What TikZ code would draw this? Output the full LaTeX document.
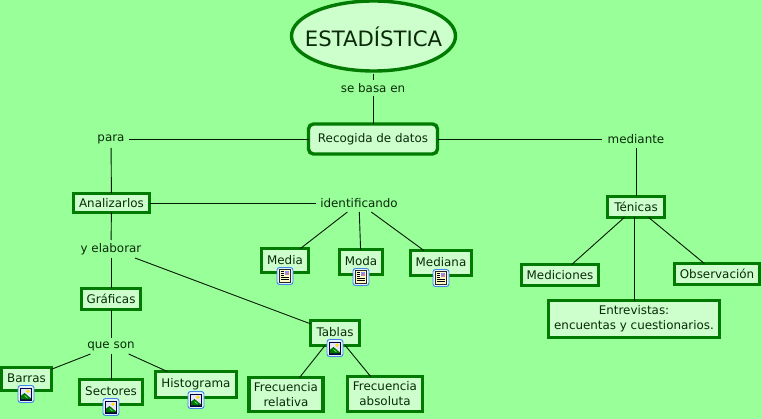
\documentclass[tikz,border=0pt]{standalone}
\usepackage{fontspec}
\setmainfont{DejaVu Sans}
\usetikzlibrary{shapes.geometric}
\definecolor{bgc}{HTML}{99FF99}
\definecolor{boxc}{HTML}{CCFFCC}
\definecolor{edgec}{HTML}{007A00}
\definecolor{txtc}{HTML}{0A2A0A}
\definecolor{tileb}{HTML}{3F86E8}
\definecolor{tilef}{HTML}{E4F1FF}
\tikzset{
  x=1pt,y=-1pt,
  every node/.append style={font=\fontsize{11.9}{15}\selectfont,text=txtc,align=center,inner sep=0pt,outer sep=0pt},
  concept/.style={draw=edgec,fill=boxc,line width=3.4pt,rectangle},
  rndbox/.style={concept,rounded corners=5pt},
  linklabel/.style={rectangle},
  conn/.style={draw=black!90!green,line width=0.9pt},
  imgicon/.pic={
    \fill[tilef,draw=tileb,line width=0.9pt,rounded corners=2.5pt] (-8,-8.5) rectangle (8,8.5);
    \fill[black!75!blue] (-6,-6.5) rectangle (6,6.5);
    \fill[blue!10] (-4.8,-5.3) rectangle (4.8,5.3);
    \fill[yellow!85!orange] (2,-2.8) circle (1.9);
    \fill[green!45!black] (-4.8,5.3) -- (-4.8,1.5) -- (-1.5,-1) -- (4.8,4.2) -- (4.8,5.3) -- cycle;
    \draw[green!65!white,line width=0.7pt] (-1.5,1.5) -- (1.5,4);
  },
  docicon/.pic={
    \fill[tilef,draw=tileb,line width=0.9pt,rounded corners=2.5pt] (-8,-8.5) rectangle (8,8.5);
    \fill[yellow!22,draw=black!85,line width=0.9pt] (-5.5,-6.5) rectangle (5.5,6.5);
    \fill[blue!45!white] (-0.5,-5.3) rectangle (4.4,-0.8);
    \fill[red!55!white] (2,-3.2) rectangle (4.4,-0.8);
    \draw[black,line width=0.75pt] (-4.3,-4.6) -- (-1.2,-4.6) (-4.3,-2.6) -- (-1.2,-2.6) (-4.3,-0.6) -- (-1.2,-0.6) (-4.3,1.4) -- (4.3,1.4) (-4.3,3.6) -- (4.3,3.6);
  }
}
\begin{document}
\begin{tikzpicture}
\useasboundingbox[fill=bgc] (0,0) rectangle (762,419);
% concepts
\node[draw=edgec,fill=boxc,line width=3.4pt,ellipse,minimum width=164pt,minimum height=70pt,font=\fontsize{21.2}{24}\selectfont] (est) at (373.5,36) {\makebox[0pt]{\smash{\raisebox{-10.5pt}{ESTADÍSTICA}}}};
\node[rndbox,minimum width=129pt,minimum height=30pt] (rec) at (373,139) {Recogida de datos};
\node[concept,minimum width=76pt,minimum height=19pt] (ana) at (111.5,203) {Analizarlos};
\node[concept,minimum width=59pt,minimum height=21pt] (gra) at (111,299) {Gráficas};
\node[concept,minimum width=50pt,minimum height=23pt] (bar) at (26.5,379) {\raisebox{1.5pt}{Barras}};
\node[concept,minimum width=63pt,minimum height=25pt] (sec) at (111,392) {\raisebox{1pt}{Sectores}};
\node[concept,minimum width=81pt,minimum height=26pt] (his) at (196,384.5) {\raisebox{2pt}{Histograma}};
\node[concept,minimum width=47pt,minimum height=24pt] (med) at (285,260.5) {\raisebox{1.5pt}{Media}};
\node[concept,minimum width=43pt,minimum height=25pt] (mod) at (361,262) {\raisebox{1.5pt}{Moda}};
\node[concept,minimum width=61pt,minimum height=25pt] (mna) at (441,263) {\raisebox{1.5pt}{Mediana}};
\node[concept,minimum width=49pt,minimum height=25pt] (tab) at (335,333) {\raisebox{2pt}{Tablas}};
\node[concept,minimum width=74pt,minimum height=34pt] (fre) at (286,394.5) {Frecuencia\\relativa};
\node[concept,minimum width=75pt,minimum height=35pt] (fab) at (385,394) {Frecuencia\\absoluta};
\node[concept,minimum width=57pt,minimum height=21pt] (ten) at (636,207) {Ténicas};
\node[concept,minimum width=77pt,minimum height=21pt] (mdc) at (560,275) {Mediciones};
\node[concept,minimum width=85pt,minimum height=21pt] (obs) at (717,274) {Observación};
\node[concept,minimum width=171pt,minimum height=37pt] (ent) at (634,319) {Entrevistas:\\encuentas y cuestionarios.};
% link labels
\node[linklabel,minimum width=68pt,minimum height=16pt] (l1) at (373,88) {se basa en};
\node[linklabel,minimum width=36pt,minimum height=18pt] (l2) at (111,139) {\raisebox{2pt}{para}};
\node[linklabel,minimum width=68pt,minimum height=18pt] (l3) at (636,139) {mediante};
\node[linklabel,minimum width=86pt,minimum height=18pt] (l4) at (359,203) {identificando};
\node[linklabel,minimum width=60pt,minimum height=18pt] (l5) at (111,249) {y elaborar};
\node[linklabel,minimum width=44pt,minimum height=16pt] (l6) at (111,346) {\raisebox{2pt}{que son}};
% connectors
\draw[conn,shorten <=3pt] (l1.north |- est.south) -- (l1);
\draw[conn] (l1) -- (rec);
\draw[conn] (rec) -- (l2);
\draw[conn] (l2) -- (ana);
\draw[conn] (rec) -- (l3);
\draw[conn] (l3) -- (ten);
\draw[conn] (ana) -- (l4);
\draw[conn] (l4) -- (med);
\draw[conn] (l4) -- (mod);
\draw[conn] (l4) -- (mna);
\draw[conn] (ana) -- (l5);
\draw[conn] (l5) -- (gra);
\draw[conn] (l5) -- (tab);
\draw[conn] (gra) -- (l6);
\draw[conn] (l6) -- (bar);
\draw[conn] (l6) -- (sec);
\draw[conn] (l6) -- (his);
\draw[conn] (tab) -- (fre);
\draw[conn] (tab) -- (fab);
\draw[conn] (ten) -- (mdc);
\draw[conn] (ten.south -| ent.north) -- (ent.north);
\draw[conn] (ten) -- (obs);
% icons
\pic at (26,394) {imgicon};
\pic at (111,407) {imgicon};
\pic at (196,400) {imgicon};
\pic at (335,348) {imgicon};
\pic at (285,276) {docicon};
\pic at (361,277) {docicon};
\pic at (441,278) {docicon};
\end{tikzpicture}
\end{document}
